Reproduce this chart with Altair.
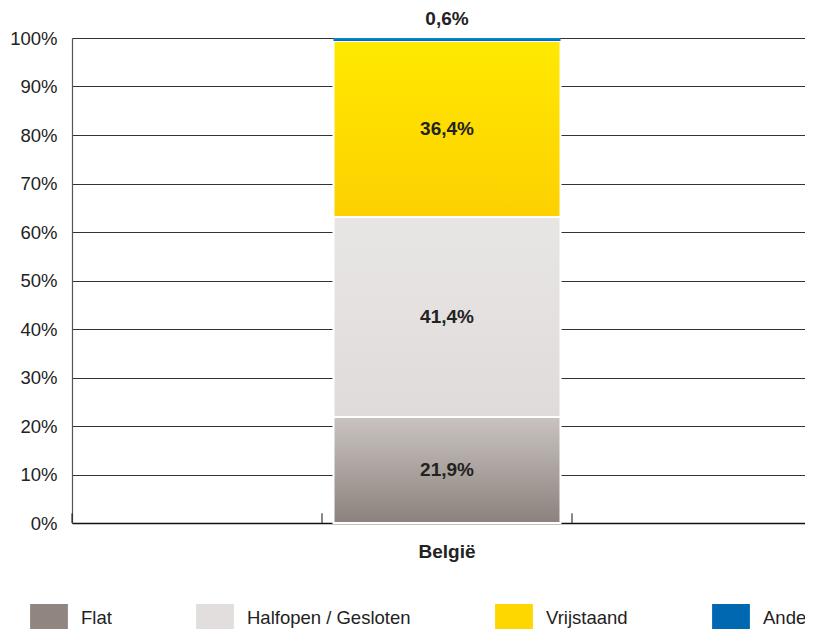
import altair as alt
import pandas as pd

# --- data ---
types = ["Flat", "Halfopen / Gesloten", "Vrijstaand", "Anders"]
values = [21.9, 41.4, 36.4, 0.6]
region = "België"
x_domain = ["links", "België", "rechts"]
legend_colors = ["#90857f", "#e2dedd", "#fed600", "#0067b1"]
gradients = {
    "Flat": ("#c9c3bf", "#8c827d"),
    "Halfopen / Gesloten": ("#e8e6e5", "#dfdbda"),
    "Vrijstaand": ("#ffe900", "#fdd000"),
    "Anders": ("#0a90d8", "#0066b2"),
}
y_ticks = [0, 10, 20, 30, 40, 50, 60, 70, 80, 90, 100]

df = pd.DataFrame({"region": [region] * len(types), "type": types,
                   "value": values, "order": list(range(len(types)))})
ticks_df = pd.DataFrame({"cat": x_domain, "v0": [0] * 3, "v1": [2] * 3})

FONT = "Liberation Sans"
FS = 18.5
FSB = 19

x_scale = alt.Scale(domain=x_domain, paddingInner=0, paddingOuter=0, range=[0, 750])
x_axis = alt.Axis(title=None, ticks=False, labelExpr="datum.value == 'België' ? datum.value : ''",
                  labelFontWeight="bold", labelFontSize=FSB, labelColor="#222",
                  labelPadding=19, domainColor="#111", domainWidth=1.5, labelAngle=0)
y_scale = alt.Scale(domain=[0, 100], nice=False)
y_axis = alt.Axis(title=None, values=y_ticks, labelExpr="datum.value + '%'", ticks=False,
                  labelFontSize=FS, labelColor="#222", labelPadding=15, grid=True,
                  gridColor="#333", gridWidth=1, domainColor="#555", domainWidth=1.2)


def Y(field):
    return alt.Y(field, type="quantitative", scale=y_scale, axis=y_axis)


def X(field, **kw):
    return alt.X(field, type="nominal", scale=x_scale, axis=x_axis, **kw)


base = alt.Chart(df).transform_stack(
    stack="value", groupby=["region"], as_=["s0", "s1"], offset="normalize",
    sort=[alt.SortField("order", order="ascending")]
).transform_calculate(
    y0="datum.s0 * 100", y1="datum.s1 * 100", mid="(datum.s0 + datum.s1) * 50",
    label="replace(format(datum.value, '.1f'), '.', ',') + '%'"
)

layers = []
for t in types:
    top, bottom = gradients[t]
    grad = alt.Gradient(gradient="linear",
                        stops=[alt.GradientStop(color=top, offset=0),
                               alt.GradientStop(color=bottom, offset=1)],
                        x1=0, x2=0, y1=0, y2=1)
    mk = dict(color=grad, width=alt.RelativeBandSize(0.908))
    if t != "Anders":
        mk.update(stroke="white", strokeWidth=2)
    layer = base.transform_filter(alt.datum.type == t).mark_bar(**mk).encode(
        x=X("region"), y=Y("y0"), y2="y1:Q",
    )
    layers.append(layer)

text_in = base.transform_filter(alt.datum.type != "Anders").mark_text(
    font=FONT, fontSize=FSB, fontWeight="bold", color="#222"
).encode(x=X("region"), y=Y("mid"), text="label:N")

text_top = base.transform_filter(alt.datum.type == "Anders").mark_text(
    font=FONT, fontSize=FSB, fontWeight="bold", color="#222", baseline="bottom", dy=-9
).encode(x=X("region"), y=Y("y1"), text="label:N")

tick_rules = alt.Chart(ticks_df).mark_rule(color="#111", strokeWidth=1).encode(
    x=X("cat", bandPosition=0), y=Y("v0"), y2="v1:Q"
)

legend_layer = alt.Chart(df).mark_square(opacity=0).encode(
    x=X("region"), y=Y("value"),
    color=alt.Color("type:N", scale=alt.Scale(domain=types, range=legend_colors),
                    legend=alt.Legend(title=None, orient="none", legendX=-41, legendY=562,
                                      direction="horizontal",
                                      symbolType="M-1.05,-0.78H1.05V1.6H-1.05Z",
                                      symbolSize=1296, symbolOpacity=1, symbolStrokeWidth=0,
                                      labelFontSize=FS, labelColor="#222", labelOffset=14,
                                      labelLimit=400, columnPadding=84, padding=0,
                                      labelFont=FONT))
)

chart = alt.layer(*layers, text_in, text_top, tick_rules, legend_layer).properties(
    width=733, height=485,
    autosize=alt.AutoSizeParams(type="none"),
    padding={"left": 64, "top": 30, "right": 0, "bottom": 106},
).configure_view(stroke=None).configure(font=FONT).configure_axis(labelFont=FONT)

chart.save("out.html", embed_options={"renderer": "svg", "actions": False})
